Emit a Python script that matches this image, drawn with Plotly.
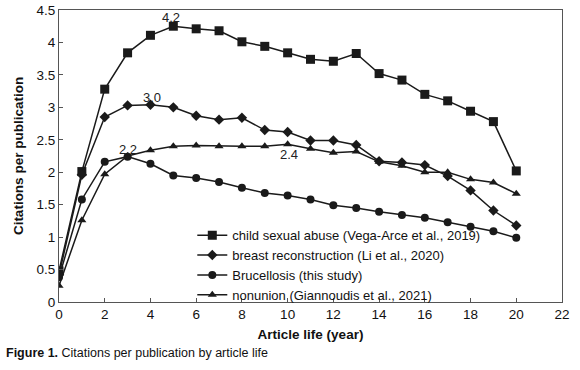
import plotly.graph_objects as go

years = list(range(0, 21))
child_abuse = [0.48, 2.01, 3.28, 3.84, 4.11, 4.25, 4.21, 4.18, 4.01, 3.94, 3.84,
               3.74, 3.71, 3.83, 3.52, 3.42, 3.20, 3.10, 2.94, 2.78, 2.02]
breast_recon = [0.42, 1.96, 2.85, 3.03, 3.04, 3.00, 2.87, 2.81, 2.84, 2.65, 2.62,
                2.49, 2.49, 2.42, 2.17, 2.15, 2.11, 1.94, 1.72, 1.41, 1.18]
brucellosis = [0.38, 1.58, 2.16, 2.24, 2.13, 1.95, 1.91, 1.85, 1.76, 1.68, 1.64,
               1.58, 1.49, 1.45, 1.39, 1.34, 1.30, 1.23, 1.16, 1.09, 0.99]
nonunion = [0.25, 1.26, 1.97, 2.25, 2.34, 2.40, 2.41, 2.40, 2.40, 2.40, 2.43,
            2.36, 2.30, 2.32, 2.16, 2.10, 2.00, 2.00, 1.89, 1.84, 1.67]

names = ["child sexual abuse (Vega-Arce et al., 2019)",
         "breast reconstruction (Li et al., 2020)",
         "Brucellosis (this study)",
         "nonunion (Giannoudis et al., 2021)"]
symbols = ["square", "diamond", "circle", "triangle-up"]
sizes = [9, 8, 8, 8]
series = [child_abuse, breast_recon, brucellosis, nonunion]

peak_text = ["4.2", "3.0", "2.2", "2.4"]
peak_x = [5, 4, 3, 10]
peak_y = [4.25, 3.04, 2.24, 2.43]
peak_shift = [(-2, 9), (2, 7), (0, 7), (1, -10)]

FONT = "Liberation Sans, Arial, sans-serif"
col = "#1a1a1a"

fig = go.Figure()
for nm, ys, sym, sz in zip(names, series, symbols, sizes):
    fig.add_trace(go.Scatter(x=years, y=ys, name=nm, mode="lines+markers",
                             line=dict(color=col, width=1.5),
                             marker=dict(symbol=sym, size=sz, color=col)))

for txt, xv, yv, (dx, dy) in zip(peak_text, peak_x, peak_y, peak_shift):
    fig.add_annotation(x=xv, y=yv, text=txt, showarrow=False, xshift=dx, yshift=dy,
                       font=dict(size=13, color="#222", family=FONT))

fig.add_annotation(xref="paper", yref="paper", x=-0.109, y=-0.175, xanchor="left", yanchor="middle",
                   text="<b>Figure 1.</b> Citations per publication by article life",
                   showarrow=False, font=dict(size=12.5, color="#111", family=FONT))

fig.update_layout(
    width=580, height=370,
    margin=dict(l=59, r=18, t=10, b=68),
    paper_bgcolor="white", plot_bgcolor="white",
    font=dict(family=FONT, size=13.5, color="#111"),
    showlegend=True,
    legend=dict(x=0.265, y=-0.028, xanchor="left", yanchor="bottom",
                bgcolor="rgba(0,0,0,0)", font=dict(size=13, family=FONT),
                tracegroupgap=0, itemwidth=30),
    xaxis=dict(range=[0, 22], dtick=2, tick0=0, showgrid=False, zeroline=False,
               showline=True, linecolor="#555", linewidth=1, mirror=True,
               ticks="inside", ticklen=4, tickcolor="#555", automargin=False,
               title=dict(text="<b>Article life (year)</b>", font=dict(size=13.5), standoff=8)),
    yaxis=dict(range=[0, 4.5], dtick=0.5, showgrid=False, zeroline=False,
               showline=True, linecolor="#555", linewidth=1, mirror=True,
               ticks="inside", ticklen=4, tickcolor="#555", automargin=False,
               title=dict(text="<b>Citations per publication</b>", font=dict(size=13.5), standoff=9)),
)

fig.write_html("out.html", config={"displayModeBar": False},
               post_script="document.body.style.margin='0';")
